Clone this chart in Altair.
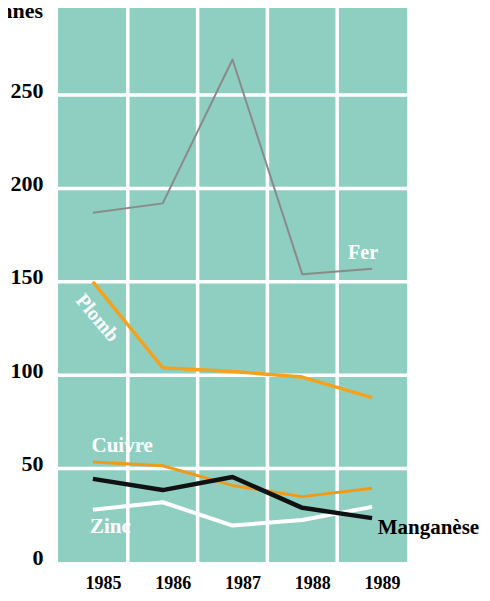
import altair as alt
import pandas as pd

years = [1985, 1986, 1987, 1988, 1989]
fer = [187, 192, 269, 154, 157]
plomb = [150, 104, 102, 99, 88]
cuivre = [53.5, 51.5, 41, 35, 39.5]
manganese = [44.5, 38.5, 45.5, 29, 23.5]
zinc = [28, 32, 19.5, 22.5, 29.5]

series_names = ["Fer", "Plomb", "Cuivre", "Zinc", "Manganèse"]
series_values = [fer, plomb, cuivre, zinc, manganese]
series_colors = ["#8a8a8a", "#f4a11c", "#f09a1a", "#ffffff", "#111111"]
series_widths = [2, 3.5, 3, 4, 4.5]

y_ticks = [0, 50, 100, 150, 200, 250]
h_grid = [50, 100, 150, 200, 250]
v_grid = [1985.5, 1986.5, 1987.5, 1988.5]

label_names = ["Fer", "Plomb", "Cuivre", "Zinc"]
label_x = [1988.87, 1985.06, 1985.42, 1985.25]
label_y = [165.4, 130.6, 62.1, 18.7]
label_angle = [0, 50, 0, 0]
label_size = [20, 20, 21, 21]

mn_label = "Manganèse"
mn_x = 1989.08
mn_y = 18.2

unit_title = "tonnes"

rows = []
for name, vals in zip(series_names, series_values):
    for yr, v in zip(years, vals):
        rows.append({"serie": name, "annee": yr, "valeur": v})
df = pd.DataFrame(rows)

xscale = alt.Scale(domain=[1984.5, 1989.5], nice=False, zero=False)
yscale = alt.Scale(domain=[0, 296.6], nice=False, zero=True)

FONT = "Liberation Serif"

base_x_axis = alt.Axis(values=years, format="d", title=None, grid=False, ticks=False,
                       domain=False, labelFont=FONT, labelFontWeight="bold",
                       labelFontSize=18, labelColor="black", labelPadding=26,
                       labelBaseline="alphabetic", labelOffset=10)
base_y_axis = alt.Axis(values=y_ticks, title=None, grid=False, ticks=False,
                       domain=False, labelFont=FONT, labelFontWeight="bold",
                       labelFontSize=22, labelColor="black", labelPadding=15,
                       labelOffset=-5)

hgrid = alt.Chart(pd.DataFrame({"v": h_grid})).mark_rule(
    color="white", strokeWidth=3.5
).encode(
    y=alt.Y("v:Q", scale=yscale, axis=base_y_axis)
)

vgrid = alt.Chart(pd.DataFrame({"v": v_grid})).mark_rule(
    color="white", strokeWidth=3.5
).encode(
    x=alt.X("v:Q", scale=xscale, axis=base_x_axis)
)

line_layers = []
for name, col, w in zip(series_names, series_colors, series_widths):
    line_layers.append(
        alt.Chart(df).transform_filter(alt.datum.serie == name).mark_line(
            color=col, strokeWidth=w, strokeJoin="round"
        ).encode(
            x=alt.X("annee:Q", scale=xscale, axis=base_x_axis),
            y=alt.Y("valeur:Q", scale=yscale, axis=base_y_axis),
        )
    )

labels_df = pd.DataFrame({"t": label_names, "x": label_x, "y": label_y,
                          "a": label_angle, "s": label_size})
white_labels = alt.Chart(labels_df).mark_text(
    color="white", font=FONT, fontWeight="bold", align="center", baseline="middle"
).encode(
    x=alt.X("x:Q", scale=xscale, axis=base_x_axis),
    y=alt.Y("y:Q", scale=yscale, axis=base_y_axis),
    text="t:N",
    angle=alt.Angle("a:Q", scale=None),
    size=alt.Size("s:Q", scale=None),
)

mn_df = pd.DataFrame({"t": [mn_label], "x": [mn_x], "y": [mn_y]})
mn_text = alt.Chart(mn_df).mark_text(
    color="black", font=FONT, fontWeight="bold", fontSize=21,
    align="left", baseline="middle"
).encode(
    x=alt.X("x:Q", scale=xscale, axis=base_x_axis),
    y=alt.Y("y:Q", scale=yscale, axis=base_y_axis),
    text="t:N",
)

title_text = alt.Chart(pd.DataFrame({"t": [unit_title]})).mark_text(
    color="black", font=FONT, fontWeight="bold", fontSize=22,
    align="right", baseline="alphabetic"
).encode(
    x=alt.value(-15), y=alt.value(10), text="t:N"
)

chart = alt.layer(hgrid, vgrid, *line_layers, white_labels, mn_text, title_text).properties(
    width=349, height=554,
    autosize=alt.AutoSizeParams(type="none"),
    padding={"left": 50, "top": 0, "right": 75, "bottom": 31},
).configure_view(fill="#8fcfc1", strokeWidth=0)

chart.save("out.html", embed_options={"renderer": "svg", "actions": False})
